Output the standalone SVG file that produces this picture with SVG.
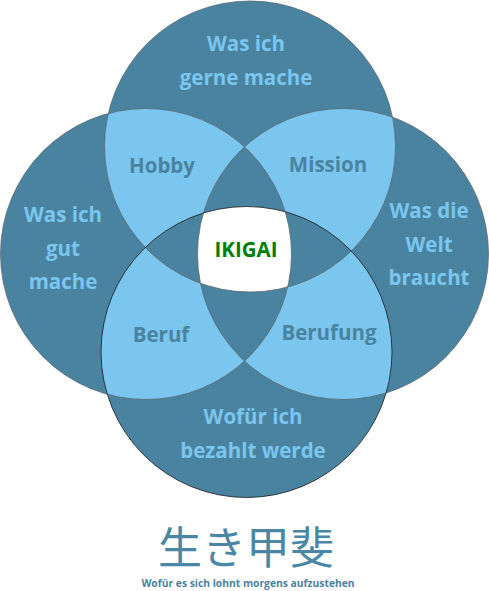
<svg xmlns="http://www.w3.org/2000/svg" width="489" height="591" viewBox="0 0 489 591">
<style>
.dark{fill:#4a83a0}
.light{fill:#7ac6ee}
.lbl{font-family:"Open Sans","Noto Sans",sans-serif;font-weight:bold;font-size:20.5px;text-anchor:middle}
.onDark{fill:#7ac6ee}
.onLight{fill:#4a83a0}
.edge{fill:none;stroke:#5a6a72;stroke-width:0.8}
</style>
<defs>
<circle id="cT" cx="250" cy="146.5" r="145.5"/>
<circle id="cB" cx="246.5" cy="352" r="145.5"/>
<circle id="cL" cx="146" cy="254" r="145.5"/>
<circle id="cR" cx="343" cy="254" r="145.5"/>
<clipPath id="kT"><use href="#cT"/></clipPath>
<clipPath id="kB"><use href="#cB"/></clipPath>
<clipPath id="kL"><use href="#cL"/></clipPath>
<clipPath id="kR"><use href="#cR"/></clipPath>
</defs>
<g id="circles">
<use href="#cT" class="dark"/>
<use href="#cL" class="dark"/>
<use href="#cR" class="dark"/>
<use href="#cB" class="dark"/>
</g>
<g id="lenses">
<use href="#cT" class="light" clip-path="url(#kL)"/>
<use href="#cT" class="light" clip-path="url(#kR)"/>
<use href="#cB" class="light" clip-path="url(#kL)"/>
<use href="#cB" class="light" clip-path="url(#kR)"/>
<use href="#cT" class="dark" clip-path="url(#kB)"/>
<use href="#cL" class="dark" clip-path="url(#kR)"/>
<g clip-path="url(#kL)"><g clip-path="url(#kR)"><use href="#cT" fill="#ffffff" clip-path="url(#kB)"/></g></g>
</g>
<g id="outlines">
<use href="#cT" class="edge"/>
<use href="#cL" class="edge"/>
<use href="#cR" class="edge"/>
<use href="#cB" class="edge" style="stroke:#1a1a1a"/>
</g>
<g id="node-top"><text class="lbl onDark" x="246" y="51">Was ich</text><text class="lbl onDark" x="246" y="85">gerne mache</text></g>
<g id="node-left"><text class="lbl onDark" x="63" y="222">Was ich</text><text class="lbl onDark" x="63" y="256">gut</text><text class="lbl onDark" x="63" y="289">mache</text></g>
<g id="node-right"><text class="lbl onDark" x="429" y="218">Was die</text><text class="lbl onDark" x="429" y="252">Welt</text><text class="lbl onDark" x="429" y="285">braucht</text></g>
<g id="node-bottom"><text class="lbl onDark" x="253" y="424">Wofür ich</text><text class="lbl onDark" x="253" y="458">bezahlt werde</text></g>
<g id="node-hobby"><text class="lbl onLight" x="162" y="173">Hobby</text></g>
<g id="node-mission"><text class="lbl onLight" x="328" y="172">Mission</text></g>
<g id="node-beruf"><text class="lbl onLight" x="161" y="342">Beruf</text></g>
<g id="node-berufung"><text class="lbl onLight" x="329" y="340">Berufung</text></g>
<g id="node-ikigai"><text class="lbl" x="246" y="257" fill="#008000">IKIGAI</text></g>
<g id="title">
<text x="246" y="564" font-family="'Noto Sans CJK JP','Noto Sans CJK SC',sans-serif" font-size="44" fill="#4a86a6" text-anchor="middle">生き甲斐</text>
<text x="248" y="587" font-family="'Open Sans','Noto Sans',sans-serif" font-weight="bold" font-size="10.3" fill="#4a83a0" text-anchor="middle">Wofür es sich lohnt morgens aufzustehen</text>
</g>
</svg>
